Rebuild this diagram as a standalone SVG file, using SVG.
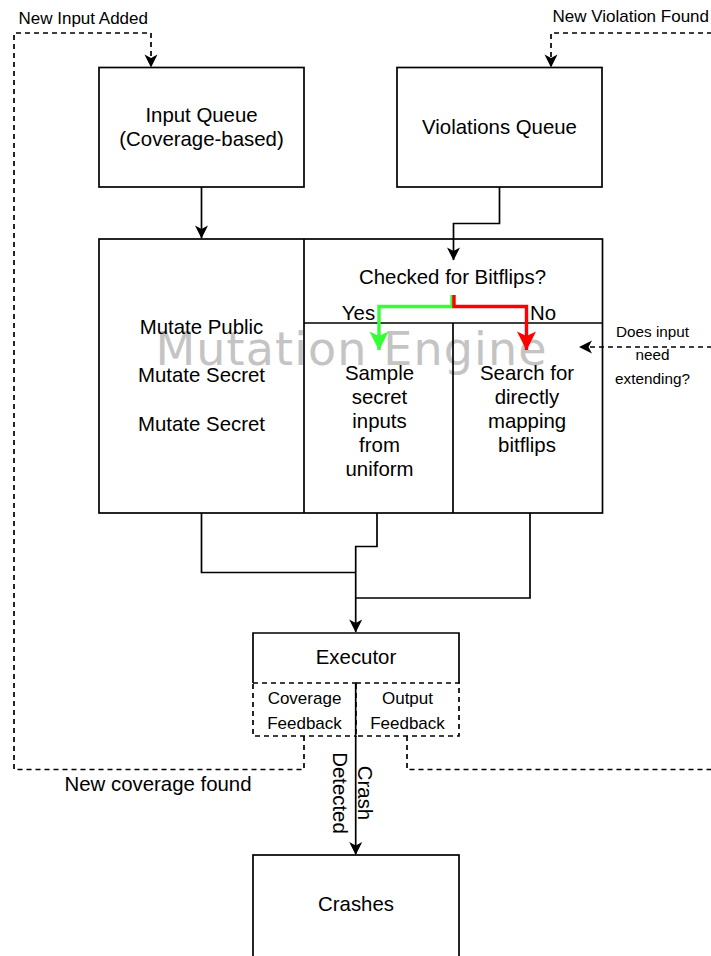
<svg xmlns="http://www.w3.org/2000/svg" width="711" height="956" viewBox="0 0 711 956">
  <style>
    .box { fill: #ffffff; stroke: #000000; stroke-width: 1.7; }
    .line { fill: none; stroke: #000000; stroke-width: 1.7; }
    .dash { fill: none; stroke: #000000; stroke-width: 1.7; stroke-dasharray: 5 4; }
    .dbox { fill: #ffffff; stroke: #000000; stroke-width: 1.7; stroke-dasharray: 5 4; }
    text { font-family: "Liberation Sans", Arial, Helvetica, sans-serif; fill: #000000; }
    .t20 { font-size: 20.4px; text-anchor: middle; }
    .t17 { font-size: 17px; }
    .t15 { font-size: 15.3px; text-anchor: middle; }
    .wm { font-family: "DejaVu Sans", "Liberation Sans", sans-serif; font-size: 46px; fill: #c4c4c4; text-anchor: middle; }
  </style>
  <defs>
    <marker id="arrow" viewBox="0 0 14 14" refX="13" refY="7" markerWidth="14" markerHeight="14" markerUnits="userSpaceOnUse" orient="auto">
      <path d="M0.5,0.5 L13.5,7 L0.5,13.5 L4,7 Z" fill="#000000"/>
    </marker>
    <marker id="arrowGreen" viewBox="0 0 20 20" refX="19" refY="10" markerWidth="20" markerHeight="20" markerUnits="userSpaceOnUse" orient="auto">
      <path d="M0.5,0.5 L19.5,10 L0.5,19.5 L5,10 Z" fill="#33ff33"/>
    </marker>
    <marker id="arrowRed" viewBox="0 0 20 20" refX="19" refY="10" markerWidth="20" markerHeight="20" markerUnits="userSpaceOnUse" orient="auto">
      <path d="M0.5,0.5 L19.5,10 L0.5,19.5 L5,10 Z" fill="#ff0000"/>
    </marker>
  </defs>

  <rect width="711" height="956" fill="#ffffff"/>

  <!-- queues -->
  <g id="input-queue">
    <rect class="box" x="99" y="67.5" width="205" height="119.5"/>
    <text class="t20" x="201.5" y="122">Input Queue</text>
    <text class="t20" x="201.5" y="146">(Coverage-based)</text>
  </g>
  <g id="violations-queue">
    <rect class="box" x="397" y="67.5" width="205" height="119.5"/>
    <text class="t20" x="499.5" y="134">Violations Queue</text>
  </g>

  <!-- mutation engine container -->
  <g id="mutation-engine">
    <rect class="box" x="99" y="239" width="503.5" height="274"/>
    <text class="wm" x="351" y="365" textLength="391" lengthAdjust="spacing">Mutation Engine</text>
    <path class="line" d="M304,239 V513 M304,323 H602.5 M453,323 V513"/>
  </g>
  <g id="mutate-ops">
    <text class="t20" x="201.5" y="333.5">Mutate Public</text>
    <text class="t20" x="201.5" y="382">Mutate Secret</text>
    <text class="t20" x="201.5" y="430.5">Mutate Secret</text>
  </g>
  <g id="bitflip-check">
    <text class="t20" x="452.5" y="283.5">Checked for Bitflips?</text>
  </g>
  <g id="sample-secret">
    <text class="t20" x="379.5" y="379.5">Sample</text>
    <text class="t20" x="379.5" y="403.5">secret</text>
    <text class="t20" x="379.5" y="427.5">inputs</text>
    <text class="t20" x="379.5" y="451.5">from</text>
    <text class="t20" x="379.5" y="475.5">uniform</text>
  </g>
  <g id="search-bitflips">
    <text class="t20" x="527" y="379.5">Search for</text>
    <text class="t20" x="527" y="403.5">directly</text>
    <text class="t20" x="527" y="427.5">mapping</text>
    <text class="t20" x="527" y="451.5">bitflips</text>
  </g>

  <!-- executor -->
  <g id="executor">
    <rect x="253" y="633" width="206" height="50" fill="#ffffff"/>
    <path class="line" d="M253,683 V633 H459 V683"/>
    <text class="t20" x="356" y="663.5">Executor</text>
  </g>
  <g id="coverage-feedback">
    <rect class="dbox" x="253" y="683" width="103" height="53"/>
    <text class="t17" text-anchor="middle" x="304.5" y="703.5">Coverage</text>
    <text class="t17" text-anchor="middle" x="304.5" y="728.5">Feedback</text>
  </g>
  <g id="output-feedback">
    <rect class="dbox" x="356" y="683" width="103" height="53"/>
    <text class="t17" text-anchor="middle" x="407.5" y="703.5">Output</text>
    <text class="t17" text-anchor="middle" x="407.5" y="728.5">Feedback</text>
  </g>

  <g id="crashes">
    <rect class="box" x="253" y="855" width="206" height="110"/>
    <text class="t20" x="356" y="911">Crashes</text>
  </g>

  <!-- connectors -->
  <g id="connectors">
    <path class="line" d="M201.5,187 V238" marker-end="url(#arrow)"/>
    <path class="line" d="M499.5,187 V223.5 H453.5 V260" marker-end="url(#arrow)"/>

    <path fill="none" stroke="#33ff33" stroke-width="3.4" d="M452,295 V306.5 H379 V350" marker-end="url(#arrowGreen)"/>
    <path fill="none" stroke="#ff0000" stroke-width="3.4" d="M454,295 V306.5 H526.5 V350" marker-end="url(#arrowRed)"/>
    <text class="t20" x="358.5" y="319.5">Yes</text>
    <text class="t20" x="543" y="319.5">No</text>

    <path class="line" d="M201.5,513 V572.5 H355.7"/>
    <path class="line" d="M377,513 V546.5 H355.7 V632" marker-end="url(#arrow)"/>
    <path class="line" d="M530,513 V598 H355.7"/>

    <path class="line" d="M355.7,683 V854.5" marker-end="url(#arrow)"/>
    <g transform="translate(355.7,793) rotate(90)">
      <text class="t20" x="0" y="-2.5">Crash</text>
      <text class="t20" x="0" y="22.5">Detected</text>
    </g>

    <path class="dash" d="M304,736 V769.5 H14 V33 H151 V67" marker-end="url(#arrow)"/>
    <text class="t20" x="64.5" y="790.5" style="text-anchor:start">New coverage found</text>
    <text class="t17" x="18.5" y="24">New Input Added</text>

    <path class="dash" d="M407,736 V769.5 H712"/>
    <path class="dash" d="M712,33 H551 V67" marker-end="url(#arrow)"/>
    <text class="t17" text-anchor="end" x="709" y="22">New Violation Found</text>

    <path class="dash" d="M712,347 H579.5" marker-end="url(#arrow)"/>
    <text class="t15" x="652.5" y="336.5">Does input</text>
    <text class="t15" x="652.5" y="360">need</text>
    <text class="t15" x="652.5" y="384">extending?</text>
  </g>
</svg>
